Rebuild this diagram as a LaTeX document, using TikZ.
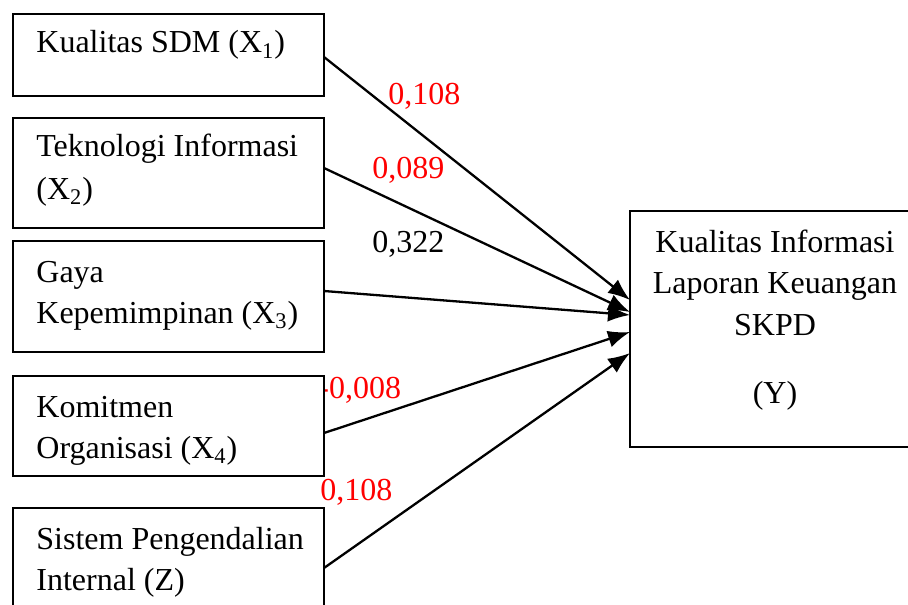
\documentclass[tikz,border=0pt]{standalone}
\usepackage{fontspec}
\setmainfont{Liberation Serif}
\usetikzlibrary{arrows.meta}
\begin{document}
\begin{tikzpicture}[x=0.5pt,y=-0.5pt,
  box/.style={draw,line width=0.8pt,inner sep=0pt,outer sep=0pt,fill=white},
  txt/.style={inner sep=0pt,anchor=base west,font=\fontsize{16}{19}\selectfont},
  ytxt/.style={inner sep=0pt,anchor=base,font=\fontsize{16}{19}\selectfont},
  lab/.style={inner sep=0pt,anchor=base west,font=\fontsize{16}{19}\selectfont},
  arr/.style={line width=1.15pt,-{Latex[length=11pt,width=8.5pt]}}]
\useasboundingbox (0,0) rectangle (908,604);
\clip (0,0) rectangle (908,604);
\fill[white] (0,0) rectangle (908,604);
% labels
\node[lab,text=red] (l1) at (388,105) {0,108};
\node[lab,text=red] (l2) at (372,178) {0,089};
\node[lab] (l3) at (372,252) {0,322};
\node[lab,text=red] (l4) at (318,398) {-0,008};
\node[lab,text=red] (l5) at (320,500) {0,108};
% boxes
\node[box,minimum width=155.5pt,minimum height=41pt] (b1) at (168.5,55) {};
\node[box,minimum width=155.5pt,minimum height=55pt] (b2) at (168.5,173) {};
\node[box,minimum width=155.5pt,minimum height=55.5pt] (b3) at (168.5,296.5) {};
\node[box,minimum width=155.5pt,minimum height=50pt] (b4) at (168.5,426) {};
\node[box,minimum width=155.5pt,minimum height=55pt] (b5) at (168.5,563) {};
\node[box,minimum width=145pt,minimum height=118pt] (y) at (775,329) {};
% texts
\node[txt] (t1) at (36,53) {Kualitas SDM (X\textsubscript{1})};
\node[txt] (t2a) at (36,157) {Teknologi Informasi};
\node[txt] (t2b) at (36,199) {(X\textsubscript{2})};
\node[txt] (t3a) at (36,282) {Gaya};
\node[txt] (t3b) at (36,323) {Kepemimpinan (X\textsubscript{3})};
\node[txt] (t4a) at (36,417) {Komitmen};
\node[txt] (t4b) at (36,458) {Organisasi (X\textsubscript{4})};
\node[txt] (t5a) at (36,549) {Sistem Pengendalian};
\node[txt] (t5b) at (36,590) {Internal (Z)};
\node[ytxt] (y1) at (775,252) {Kualitas Informasi};
\node[ytxt] (y2) at (775,293) {Laporan Keuangan};
\node[ytxt] (y3) at (775,335) {SKPD};
\node[ytxt] (y4) at (775,403) {(Y)};
% arrows
\draw[arr] ([yshift=-1pt]b1.east) -- ([yshift=14.5pt]y.west);
\draw[arr] ([yshift=2.5pt]b2.east) -- ([yshift=8.5pt]y.west);
\draw[arr] ([yshift=2.75pt]b3.east) -- ([yshift=7pt]y.west);
\draw[arr] ([yshift=-3.5pt]b4.east) -- ([yshift=-1.5pt]y.west);
\draw[arr] ([yshift=-2.5pt]b5.east) -- ([yshift=-12pt]y.west);
\end{tikzpicture}
\end{document}
